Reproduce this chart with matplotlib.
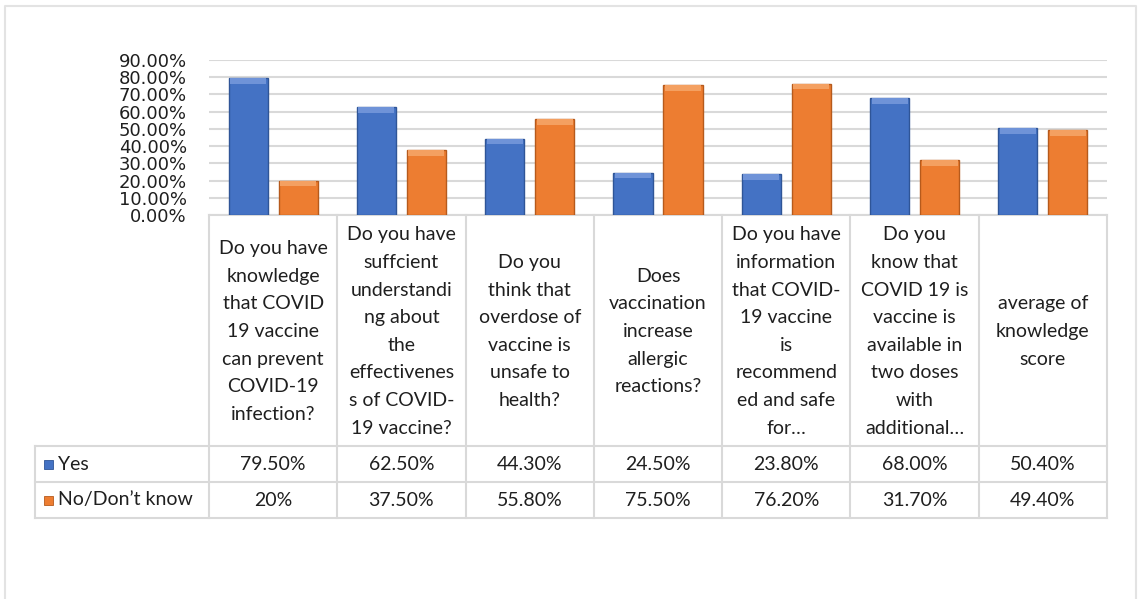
#!/usr/bin/env python3
"""Knowledge about COVID-19 vaccination: Excel-style bar chart with data table."""

import matplotlib
import numpy as np

matplotlib.use("Agg")
import matplotlib.pyplot as plt
from matplotlib.lines import Line2D
from matplotlib.patches import Rectangle

questions = [
    "Do you have\nknowledge\nthat COVID\n19 vaccine\ncan prevent\nCOVID-19\ninfection?",
    "Do you have\nsuffcient\nunderstandi\nng about\nthe\neffectivenes\ns of COVID-\n19 vaccine?",
    "Do you\nthink that\noverdose of\nvaccine is\nunsafe to\nhealth?",
    "Does\nvaccination\nincrease\nallergic\nreactions?",
    "Do you have\ninformation\nthat COVID-\n19 vaccine\nis\nrecommend\ned and safe\nfor\u2026",
    "Do you\nknow that\nCOVID 19 is\nvaccine is\navailable in\ntwo doses\nwith\nadditional\u2026",
    "average of\nknowledge\nscore",
]
series_names = ["Yes", "No/Don\u2019t know"]
yes_vals = [0.795, 0.625, 0.443, 0.245, 0.238, 0.680, 0.504]
no_vals = [0.20, 0.375, 0.558, 0.755, 0.762, 0.317, 0.494]
yes_labels = ["79.50%", "62.50%", "44.30%", "24.50%", "23.80%", "68.00%", "50.40%"]
no_labels = ["20%", "37.50%", "55.80%", "75.50%", "76.20%", "31.70%", "49.40%"]
y_ticks = [0.0, 0.1, 0.2, 0.3, 0.4, 0.5, 0.6, 0.7, 0.8, 0.9]

W, H = 1145, 599
BLUE, BLUE_DARK, BLUE_LIGHT = "#4472c4", "#2f5597", "#6f93d8"
ORANGE, ORANGE_DARK, ORANGE_LIGHT = "#ed7d31", "#b65a1c", "#f4a061"
GRID = "#d9d9d9"
TEXT = "#1f1f1f"
FS = 14

plt.rcParams["font.family"] = ["Lato", "DejaVu Sans"]


def fx(px):
    return px / W


def fy(py):
    return 1 - py / H


fig = plt.figure(figsize=(W / 100, H / 100), dpi=100)

# plot area in pixel terms of the reference
left, right, top, bottom = 209, 1107, 60, 215
ax = fig.add_axes([fx(left), fy(bottom), fx(right - left), fy(top) - fy(bottom)])

n = len(questions)
x = np.arange(n)
off, bw = 0.195, 0.305
bevel = 0.033

for vals, sign, col, dark, light in [
    (yes_vals, -1, BLUE, BLUE_DARK, BLUE_LIGHT),
    (no_vals, 1, ORANGE, ORANGE_DARK, ORANGE_LIGHT),
]:
    xs = x + sign * off
    ax.bar(xs, vals, width=bw, color=col, edgecolor=dark, linewidth=1.0, zorder=3)
    # lighter bevel on top of each bar
    ax.bar(xs, [bevel] * n, bottom=np.array(vals) - bevel, width=bw * 0.92,
           color=light, linewidth=0, zorder=4)

ax.set_xlim(-0.5, n - 0.5)
ax.set_ylim(0, 0.9)
ax.set_yticks(y_ticks)
ax.set_yticklabels([f"{t * 100:.2f}%" for t in y_ticks], family="DejaVu Sans",
                   fontsize=13, color=TEXT)
ax.tick_params(axis="y", length=0, pad=16)
ax.set_xticks([])
ax.grid(axis="y", color=GRID, linewidth=1.5, zorder=0)
for s in ["top", "right", "left"]:
    ax.spines[s].set_visible(False)
ax.spines["bottom"].set_color(GRID)
ax.spines["bottom"].set_linewidth(1.5)

# data table below the axes
col_w = (right - left) / n
tab_left, head_bot, row1_bot, row2_bot = 35, 446, 482, 518


def hline(y, x0, x1):
    fig.add_artist(Line2D([fx(x0), fx(x1)], [fy(y), fy(y)], color=GRID, lw=1.5))


def vline(xp, y0, y1):
    fig.add_artist(Line2D([fx(xp), fx(xp)], [fy(y0), fy(y1)], color=GRID, lw=1.5))


for i in range(n + 1):
    vline(left + i * col_w, bottom, row2_bot)
vline(tab_left, head_bot, row2_bot)
for yy in [head_bot, row1_bot, row2_bot]:
    hline(yy, tab_left, right)

for i, q in enumerate(questions):
    cx = fx(left + (i + 0.5) * col_w)
    fig.text(cx, fy((bottom + head_bot) / 2 + 1), q, ha="center", va="center",
             fontsize=FS, color=TEXT, linespacing=1.76)
    fig.text(cx, fy((head_bot + row1_bot) / 2), yes_labels[i], ha="center",
             va="center", fontsize=FS, color=TEXT)
    fig.text(cx, fy((row1_bot + row2_bot) / 2), no_labels[i], ha="center",
             va="center", fontsize=FS, color=TEXT)

for name, (y0, y1), col, dark in [
    (series_names[0], (head_bot, row1_bot), BLUE, BLUE_DARK),
    (series_names[1], (row1_bot, row2_bot), ORANGE, ORANGE_DARK),
]:
    yc = (y0 + y1) / 2
    fig.add_artist(Rectangle((fx(44), fy(yc + 4.5)), fx(9), fy(yc - 4.5) - fy(yc + 4.5),
                             facecolor=col, edgecolor=dark, lw=0.6))
    fig.text(fx(58), fy(yc), name, ha="left", va="center", fontsize=FS, color=TEXT)

# outer chart-area border
fig.add_artist(Line2D([fx(5), fx(5), fx(1136), fx(1136)], [fy(H), fy(6), fy(6), fy(H)],
                      color="#e3e3e3", lw=1.5))

fig.savefig("out.png", dpi=100)
